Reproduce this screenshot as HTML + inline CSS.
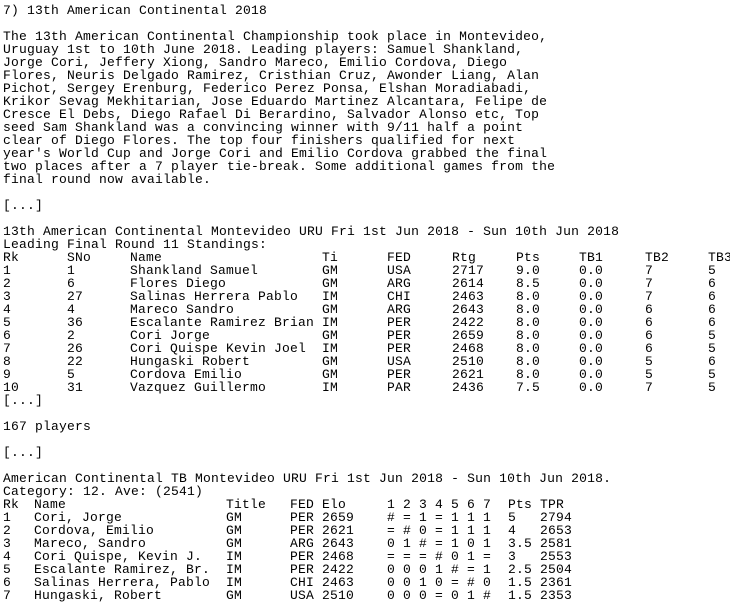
<!DOCTYPE html>
<html><head><meta charset="utf-8"><style>
html,body{margin:0;padding:0;background:#fff;}
body{width:730px;height:605px;position:relative;overflow:hidden;font-family:"Liberation Mono",monospace;font-size:13px;color:#000;letter-spacing:0.2px;}
.l{position:absolute;left:3px;height:13px;line-height:13px;white-space:pre;}
.r{position:absolute;left:0;width:730px;height:13px;line-height:13px;white-space:pre;}
.r span{position:absolute;top:0;}
</style></head><body>
<div id="root"></div>
<script>
const root=document.getElementById('root');
function rowTop(n){return (4+13*n)+'px';}
const para=["The 13th American Continental Championship took place in Montevideo,",
"Uruguay 1st to 10th June 2018. Leading players: Samuel Shankland,",
"Jorge Cori, Jeffery Xiong, Sandro Mareco, Emilio Cordova, Diego",
"Flores, Neuris Delgado Ramirez, Cristhian Cruz, Awonder Liang, Alan",
"Pichot, Sergey Erenburg, Federico Perez Ponsa, Elshan Moradiabadi,",
"Krikor Sevag Mekhitarian, Jose Eduardo Martinez Alcantara, Felipe de",
"Cresce El Debs, Diego Rafael Di Berardino, Salvador Alonso etc, Top",
"seed Sam Shankland was a convincing winner with 9/11 half a point",
"clear of Diego Flores. The top four finishers qualified for next",
"year's World Cup and Jorge Cori and Emilio Cordova grabbed the final",
"two places after a 7 player tie-break. Some additional games from the",
"final round now available."];
function line(n,text,name){const d=document.createElement('div');d.className='l';d.style.top=rowTop(n);d.textContent=text;


root.appendChild(d);}
function row(n,cells,xs,name){const d=document.createElement('div');d.className='r';d.style.top=rowTop(n);


cells.forEach((c,i)=>{const s=document.createElement('span');s.style.left=xs[i]+'px';s.textContent=c;d.appendChild(s);});root.appendChild(d);}
line(0,"7) 13th American Continental 2018","section-title");
para.forEach((t,i)=>line(2+i,t,"intro-paragraph-line"));
line(15,"[...]","ellipsis");
line(17,"13th American Continental Montevideo URU Fri 1st Jun 2018 - Sun 10th Jun 2018","standings-title");
line(18,"Leading Final Round 11 Standings:","standings-subtitle");
const sx=[3,67,130,322,387,452,516,579,645,708];
row(19,["Rk","SNo","Name","Ti","FED","Rtg","Pts","TB1","TB2","TB3"],sx,"standings-header");
const st=[["1","1","Shankland Samuel","GM","USA","2717","9.0","0.0","7","5"],
["2","6","Flores Diego","GM","ARG","2614","8.5","0.0","7","6"],
["3","27","Salinas Herrera Pablo","IM","CHI","2463","8.0","0.0","7","6"],
["4","4","Mareco Sandro","GM","ARG","2643","8.0","0.0","6","6"],
["5","36","Escalante Ramirez Brian","IM","PER","2422","8.0","0.0","6","6"],
["6","2","Cori Jorge","GM","PER","2659","8.0","0.0","6","5"],
["7","26","Cori Quispe Kevin Joel","IM","PER","2468","8.0","0.0","6","5"],
["8","22","Hungaski Robert","GM","USA","2510","8.0","0.0","5","6"],
["9","5","Cordova Emilio","GM","PER","2621","8.0","0.0","5","5"],
["10","31","Vazquez Guillermo","IM","PAR","2436","7.5","0.0","7","5"]];
st.forEach((r,i)=>row(20+i,r,sx,"standings-row"));
line(30,"[...]","ellipsis");
line(32,"167 players","player-count");
line(34,"[...]","ellipsis");
line(36,"American Continental TB Montevideo URU Fri 1st Jun 2018 - Sun 10th Jun 2018.","tiebreak-title");
line(37,"Category: 12. Ave: (2541)","tiebreak-category");
const tx=[3,34,226,290,322,387,508,540];
row(38,["Rk","Name","Title","FED","Elo","1 2 3 4 5 6 7","Pts","TPR"],tx,"tiebreak-header");
const tb=[["1","Cori, Jorge","GM","PER","2659","# = 1 = 1 1 1","5","2794"],
["2","Cordova, Emilio","GM","PER","2621","= # 0 = 1 1 1","4","2653"],
["3","Mareco, Sandro","GM","ARG","2643","0 1 # = 1 0 1","3.5","2581"],
["4","Cori Quispe, Kevin J.","IM","PER","2468","= = = # 0 1 =","3","2553"],
["5","Escalante Ramirez, Br.","IM","PER","2422","0 0 0 1 # = 1","2.5","2504"],
["6","Salinas Herrera, Pablo","IM","CHI","2463","0 0 1 0 = # 0","1.5","2361"],
["7","Hungaski, Robert","GM","USA","2510","0 0 0 = 0 1 #","1.5","2353"]];
tb.forEach((r,i)=>row(39+i,r,tx,"tiebreak-row"));
</script>
</body></html>
